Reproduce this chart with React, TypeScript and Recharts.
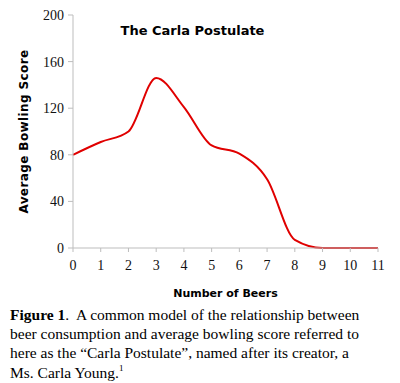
import React from "react";
import { LineChart, Line, XAxis, YAxis, Label } from "recharts";

const beers = [0, 1, 2, 3, 4, 5, 6, 7, 8, 9, 10, 11];
const scores = [80, 91, 100, 146, 121, 88, 81, 59, 7, 0, 0, 0];
const yTicks = [0, 40, 80, 120, 160, 200];

const data = beers.map((b, i) => ({ beers: b, score: scores[i] }));

const axisGray = "#bdbdbd";
const tickStyle = { fontFamily: "'Liberation Serif', serif", fontSize: 14, fill: "#111" };
const labelFont = "'DejaVu Sans', sans-serif";

export default function App() {
  return (
    <div style={{ position: "fixed", top: 0, left: 0, width: 400, height: 383, background: "#fff", overflow: "hidden" }}>
      <LineChart
        width={400}
        height={305}
        data={data}
        margin={{ top: 15, right: 22, bottom: 0, left: 0 }}
      >
        <XAxis
          dataKey="beers"
          type="number"
          domain={[0, 11]}
          ticks={beers}
          stroke={axisGray}
          tickSize={4}
          tickMargin={8}
          tick={tickStyle}
          height={57}
        >
          <Label
            value="Number of Beers"
            position="insideBottom"
            offset={8}
            style={{ fontFamily: labelFont, fontWeight: "bold", fontSize: 11, fill: "#000" }}
          />
        </XAxis>
        <YAxis
          domain={[0, 200]}
          ticks={yTicks}
          stroke={axisGray}
          tickSize={5}
          tickMargin={4}
          tick={tickStyle}
          width={73}
        >
          <Label
            value="Average Bowling Score"
            angle={-90}
            position="insideLeft"
            offset={24}
            style={{ textAnchor: "middle", fontFamily: labelFont, fontWeight: "bold", fontSize: 12, letterSpacing: 0.4, fill: "#000" }}
          />
        </YAxis>
        <Line
          type="monotone"
          dataKey="score"
          stroke="#e00000"
          strokeWidth={2}
          dot={false}
          isAnimationActive={false}
        />
      </LineChart>
      <div
        style={{
          position: "absolute",
          top: 23,
          left: 90,
          width: 205,
          textAlign: "center",
          fontFamily: labelFont,
          fontWeight: "bold",
          fontSize: 13,
          color: "#000",
        }}
      >
        The Carla Postulate
      </div>
      <div
        style={{
          position: "absolute",
          top: 305,
          left: 10,
          fontFamily: "'Liberation Serif', serif",
          fontSize: 15.5,
          lineHeight: "19.2px",
          color: "#000",
          whiteSpace: "nowrap",
        }}
      >
        <b>Figure 1</b>.&nbsp; A common model of the relationship between
        <br />
        beer consumption and average bowling score referred to
        <br />
        here as the “Carla Postulate”, named after its creator, a
        <br />
        Ms. Carla Young.
        <span style={{ fontSize: 9, verticalAlign: "top", lineHeight: "10px" }}>1</span>
      </div>
    </div>
  );
}
